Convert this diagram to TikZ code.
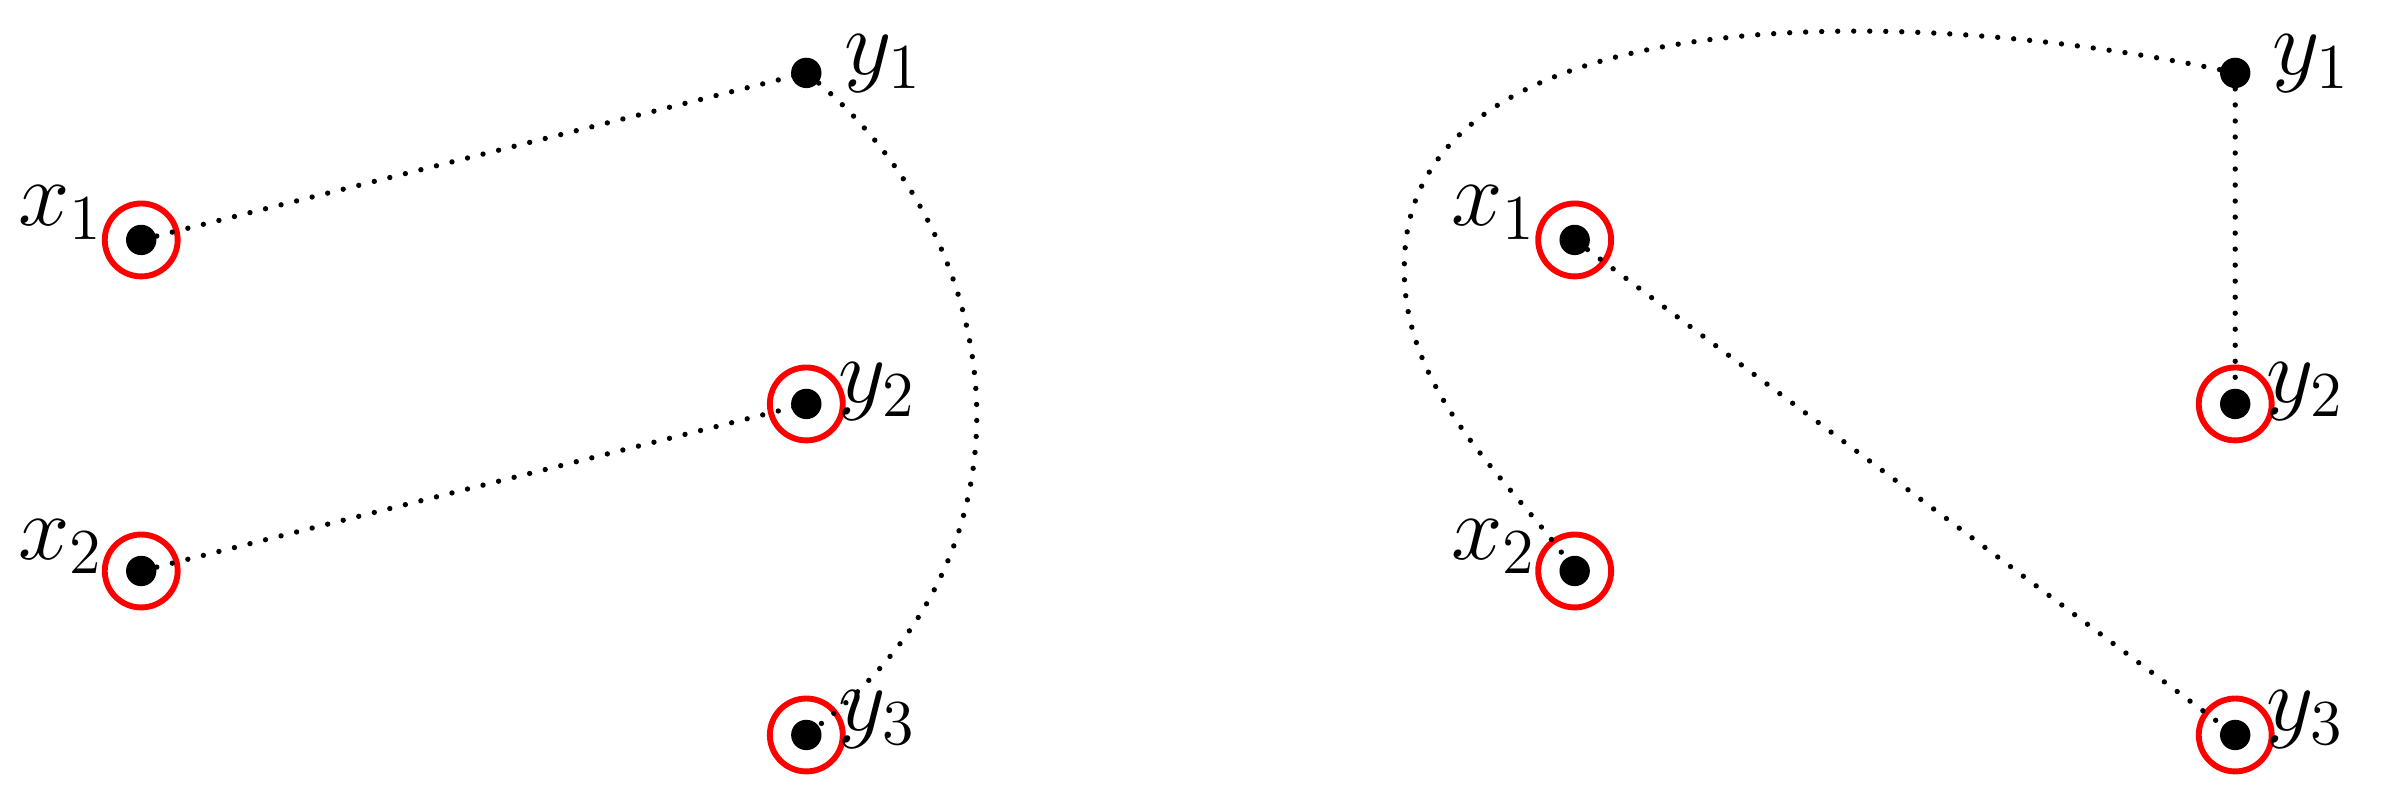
\documentclass[tikz,border=0pt]{standalone}
\begin{document}
\begin{tikzpicture}[x=0.01cm,y=-0.01cm,
  dotv/.style={circle,fill=black,inner sep=0pt,minimum size=0.2cm},
  ring/.style={circle,draw=red,line width=1.1pt,inner sep=0pt,minimum size=0.48cm},
  lab/.style={font=\fontsize{18}{22}\selectfont},
  edge/.style={line width=1pt,dash pattern=on 0pt off 3pt,line cap=round}]
\useasboundingbox (0,0) rectangle (1568,526);
\foreach \n/\x/\y in {a/93/158,b/93/376,c/531/48,d/531/266,e/531/484,
                      f/1037/158,g/1037/376,h/1472/48,i/1472/266,j/1472/484}
  \node[dotv] (\n) at (\x,\y) {};
\foreach \n in {a,b,d,e,f,g,i,j} \node[ring] (r\n) at (\n) {};
\node[lab] (la) at (40,140) {$x_1$};
\node[lab] (lb) at (40,360) {$x_2$};
\node[lab] (lc) at (582,42) {$y_1$};
\node[lab] (ld) at (578,258) {$y_2$};
\node[lab] (le) at (578,474) {$y_3$};
\node[lab] (lf) at (984,140) {$x_1$};
\node[lab] (lg) at (984,360) {$x_2$};
\node[lab] (lh) at (1522,42) {$y_1$};
\node[lab] (li) at (1518,258) {$y_2$};
\node[lab] (lj) at (1518,474) {$y_3$};
\draw[edge] (a.center) -- (c.center);
\draw[edge] (b.center) -- (d.center);
\draw[edge] (c.center) .. controls (660,150) and (700,360) .. (e.center);
\draw[edge] (h.center) -- (i.center);
\draw[edge] (f.center) -- (j.center);
\draw[edge] (h.center) .. controls (1250,0) and (930,0) .. (925,170) .. controls (920,260) and (1000,320) .. (g.center);
\end{tikzpicture}
\end{document}
